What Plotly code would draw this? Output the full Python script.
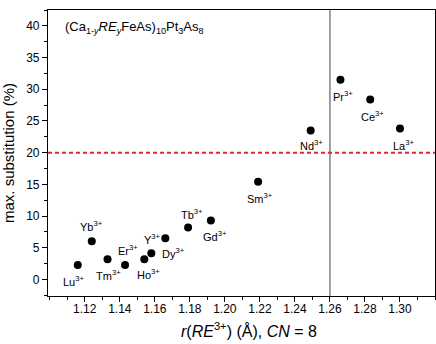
import plotly.graph_objects as go

ions = ["Lu", "Yb", "Tm", "Er", "Ho", "Y", "Dy", "Tb", "Gd", "Sm", "Nd", "Pr", "Ce", "La"]
radius = [1.116, 1.124, 1.133, 1.143, 1.154, 1.158, 1.166, 1.179, 1.192, 1.219, 1.249, 1.266, 1.283, 1.300]
max_sub = [2.3, 6.05, 3.2, 2.3, 3.2, 4.15, 6.5, 8.2, 9.3, 15.4, 23.5, 31.5, 28.4, 23.8]
# label offsets in pixels (dx, dy; dy positive = below) relative to each point
label_dx = [-4, 0, 1, 3, 4, 1, 8, 4, 4, 2, 1, 3, 2, 4]
label_dy = [16, -15, 16, -15, 15, -14, 15, -14, 15, 16, 15, 16, 17, 16]

crit_radius = 1.26
crit_sub = 20

fig = go.Figure()
fig.add_trace(go.Scatter(x=radius, y=max_sub, mode="markers",
                         marker=dict(color="black", size=8), showlegend=False))

fig.add_shape(type="line", x0=crit_radius, x1=crit_radius, y0=0, y1=1, yref="paper",
              line=dict(color="#7f7f7f", width=1.5))
fig.add_shape(type="line", x0=0, x1=1, xref="paper", y0=crit_sub, y1=crit_sub,
              line=dict(color="#e3262b", width=2, dash="4px,3px"))

for ion, x, y, dx, dy in zip(ions, radius, max_sub, label_dx, label_dy):
    fig.add_annotation(x=x, y=y, text=f"{ion}<sup>3+</sup>", showarrow=False,
                       xshift=dx, yshift=-dy, font=dict(size=11, color="black"))

fig.add_annotation(xref="paper", yref="paper", x=0.04, y=0.94, xanchor="left", yanchor="middle",
                   text="(Ca<sub>1-<i>y</i></sub><i>RE</i><sub><i>y</i></sub>FeAs)<sub>10</sub>Pt<sub>3</sub>As<sub>8</sub>",
                   showarrow=False, font=dict(size=13, color="black"))

# x-axis title placed as annotation for exact position
fig.add_annotation(xref="paper", yref="paper", x=0.52, y=-0.119, xanchor="center", yanchor="middle",
                   text="<i>r</i>(<i>RE</i><sup>3+</sup>) (Å), <i>CN</i> = 8",
                   showarrow=False, font=dict(size=16, color="black"))

fig.update_layout(
    width=436, height=344,
    margin=dict(l=48, r=1, t=10, b=48),
    paper_bgcolor="white", plot_bgcolor="white",
    font=dict(family="Liberation Sans, Arial, sans-serif", color="black", size=12),
    xaxis=dict(range=[1.099, 1.32], tickvals=[1.12, 1.14, 1.16, 1.18, 1.20, 1.22, 1.24, 1.26, 1.28, 1.30],
               ticktext=["1.12", "1.14", "1.16", "1.18", "1.20", "1.22", "1.24", "1.26", "1.28", "1.30"],
               ticks="outside", ticklen=5, tickwidth=1, tickcolor="black", ticklabelstandoff=-4,
               minor=dict(dtick=0.01, tick0=1.1, ticks="outside", ticklen=3, tickcolor="black"),
               showline=True, linecolor="black", linewidth=1.2, mirror=True, showgrid=False, zeroline=False),
    yaxis=dict(range=[-2.6, 42.5], tickvals=[0, 5, 10, 15, 20, 25, 30, 35, 40],
               ticks="outside", ticklen=5, tickwidth=1, tickcolor="black",
               minor=dict(dtick=2.5, tick0=0, ticks="outside", ticklen=3, tickcolor="black"),
               showline=True, linecolor="black", linewidth=1.2, mirror=True, showgrid=False, zeroline=False,
               title=dict(text="max. substitution (%)", font=dict(size=15), standoff=8)),
)

fig.write_html("out.html", config={"displayModeBar": False},
               post_script="document.body.style.margin='0';document.body.style.overflow='hidden';")
